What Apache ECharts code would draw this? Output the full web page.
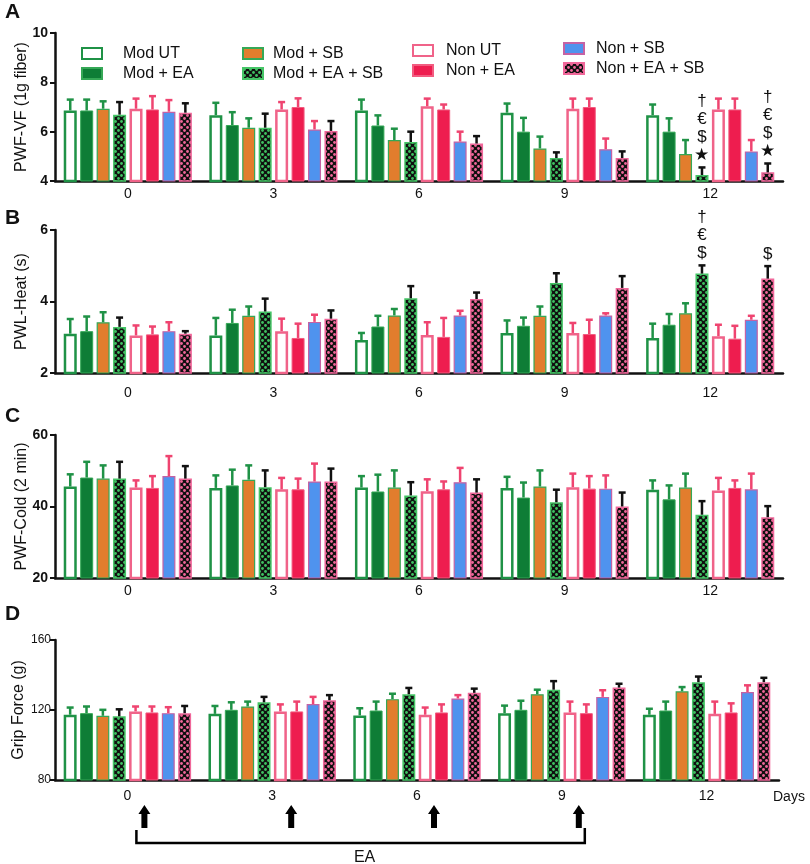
<!DOCTYPE html>
<html><head><meta charset="utf-8">
<script src="https://cdn.jsdelivr.net/npm/echarts@6/dist/echarts.min.js"></script>
<style>html,body{margin:0;padding:0;background:#fff}#c{width:810px;height:864px}</style>
</head><body><div id="c"></div>
<script>
const days = ['0', '3', '6', '9', '12'];
const groups = ['Mod UT', 'Mod + EA', 'Mod + SB', 'Mod + EA + SB', 'Non UT', 'Non + EA', 'Non + SB', 'Non + EA + SB'];

// Panel A: PWF-VF (1g fiber) — rows = groups, cols = days
const vfMean = [
  [6.86, 6.67, 6.86, 6.77, 6.67],
  [6.86, 6.27, 6.25, 6.00, 6.00],
  [6.93, 6.16, 5.66, 5.32, 5.09],
  [6.69, 6.16, 5.58, 4.93, 4.24],
  [6.93, 6.90, 7.03, 6.93, 6.90],
  [6.90, 7.00, 6.90, 7.00, 6.90],
  [6.81, 6.09, 5.60, 5.29, 5.20],
  [6.77, 6.03, 5.52, 4.93, 4.35]
];
const vfSem = [
  [0.44, 0.50, 0.44, 0.37, 0.43],
  [0.44, 0.52, 0.41, 0.56, 0.54],
  [0.30, 0.38, 0.46, 0.48, 0.57],
  [0.51, 0.57, 0.42, 0.23, 0.31],
  [0.41, 0.30, 0.31, 0.41, 0.44],
  [0.54, 0.35, 0.20, 0.34, 0.44],
  [0.47, 0.34, 0.40, 0.43, 0.46],
  [0.38, 0.40, 0.30, 0.27, 0.36]
];
// Panel B: PWL-Heat (s)
const heatMean = [
  [3.10, 3.05, 2.92, 3.12, 2.98],
  [3.17, 3.40, 3.30, 3.32, 3.35],
  [3.42, 3.60, 3.61, 3.60, 3.67],
  [3.29, 3.72, 4.09, 4.52, 4.78],
  [3.05, 3.17, 3.06, 3.12, 3.03],
  [3.08, 2.98, 3.01, 3.09, 2.96],
  [3.17, 3.43, 3.61, 3.61, 3.49],
  [3.10, 3.52, 4.07, 4.38, 4.64]
];
const heatSem = [
  [0.41, 0.49, 0.20, 0.35, 0.40],
  [0.41, 0.37, 0.30, 0.23, 0.30],
  [0.28, 0.26, 0.18, 0.26, 0.28],
  [0.26, 0.36, 0.34, 0.27, 0.23],
  [0.28, 0.35, 0.36, 0.28, 0.32],
  [0.22, 0.40, 0.53, 0.40, 0.36],
  [0.25, 0.20, 0.13, 0.06, 0.11],
  [0.07, 0.23, 0.18, 0.33, 0.35]
];
// Panel C: PWF-Cold (2 min)
const coldMean = [
  [45.6, 45.2, 45.3, 45.2, 44.7],
  [48.1, 45.9, 44.2, 42.5, 42.0],
  [47.8, 47.5, 45.3, 45.6, 45.3],
  [47.8, 45.4, 43.1, 41.2, 37.7],
  [45.3, 44.8, 44.3, 45.4, 44.5],
  [45.2, 44.8, 44.8, 45.0, 45.2],
  [48.5, 47.0, 46.8, 45.0, 44.8],
  [47.8, 47.0, 43.9, 40.0, 37.0]
];
const coldSem = [
  [3.4, 3.5, 3.2, 3.1, 2.6],
  [4.4, 4.4, 4.7, 4.2, 3.9],
  [3.7, 4.0, 4.8, 4.5, 3.9],
  [4.7, 4.7, 3.7, 3.5, 3.8],
  [2.0, 3.2, 3.3, 3.8, 3.5],
  [3.3, 3.0, 2.2, 3.5, 2.1],
  [5.6, 5.0, 4.0, 3.7, 4.4],
  [3.5, 3.6, 3.7, 3.9, 3.1]
];
// Panel D: Grip Force (g)
const gripMean = [
  [117.3, 117.8, 116.9, 118.2, 117.3],
  [118.2, 120.1, 119.7, 120.1, 119.7],
  [116.7, 122.0, 126.2, 129.0, 130.7],
  [116.4, 124.4, 129.0, 131.6, 135.9],
  [119.2, 119.2, 117.3, 118.6, 117.8],
  [118.6, 119.2, 118.6, 118.2, 118.6],
  [118.2, 123.4, 126.6, 127.5, 130.3],
  [118.2, 125.6, 129.8, 132.8, 135.9]
];
const gripSem = [
  [4.1, 4.5, 4.1, 4.3, 3.4],
  [3.8, 4.3, 5.1, 5.2, 5.1],
  [3.4, 2.8, 3.1, 2.6, 2.4],
  [4.0, 3.1, 3.6, 4.9, 3.2],
  [2.8, 4.0, 4.1, 6.2, 7.0],
  [3.4, 5.6, 4.6, 5.0, 5.2],
  [3.4, 4.1, 1.9, 3.8, 3.8],
  [4.1, 2.9, 2.4, 2.2, 2.5]
];
const yNames = ['PWF-VF (1g fiber)', 'PWL-Heat (s)', 'PWF-Cold (2 min)', 'Grip Force (g)'];
const yMin = [4, 2, 20, 80];
const yMax = [10, 6, 60, 160];
const yStep = [2, 2, 20, 40];
const panelLetters = ['A', 'B', 'C', 'D'];
// significance marks: [dayIndex, groupIndex, text]
const sigA = [[4, 3, '†\n€\n$\n★'], [4, 7, '†\n€\n$\n★']];
const sigB = [[4, 3, '†\n€\n$'], [4, 7, '$']];
const sigC = [];
const sigD = [];
const eaDays = [0, 1, 2, 3];

const means = [vfMean, heatMean, coldMean, gripMean];
const sems = [vfSem, heatSem, coldSem, gripSem];
const sigs = [sigA, sigB, sigC, sigD];

const FONT = 'Liberation Sans, Arial, sans-serif';
function pattern(bg, dot) {
  const c = document.createElement('canvas');
  c.width = 6; c.height = 6;
  const ctx = c.getContext('2d');
  ctx.fillStyle = bg; ctx.fillRect(0, 0, 6, 6);
  ctx.fillStyle = dot;
  [[1.5, 1.5], [4.5, 4.5]].forEach(([x, y]) => { ctx.beginPath(); ctx.arc(x, y, 1.4, 0, Math.PI * 2); ctx.fill(); });
  return { image: c, repeat: 'repeat' };
}
const GREEN = '#1f9246', PINK = '#ef4470';
const styles = [
  { color: '#ffffff', borderColor: GREEN, borderWidth: 2.5 },
  { color: '#0e7d36', borderColor: '#35a856', borderWidth: 1 },
  { color: '#e27d2d', borderColor: '#35a856', borderWidth: 1.2 },
  { color: pattern('#101010', '#3fc262'), borderColor: '#45c566', borderWidth: 1.5 },
  { color: '#ffffff', borderColor: '#f06389', borderWidth: 2.5 },
  { color: '#ee1d4f', borderColor: '#f25c80', borderWidth: 1 },
  { color: '#4f93ee', borderColor: '#c562a4', borderWidth: 1.2 },
  { color: pattern('#101010', '#f0679a'), borderColor: '#f0679a', borderWidth: 1.5 }
];
const errColors = [GREEN, GREEN, GREEN, '#111', PINK, PINK, PINK, '#111'];

const CAT_GAP = 0.12, BAR_GAP = 0.264, N = 8;
function barX(api, cat, s) {
  const band = api.size([1, 0])[0];
  const bw = (band - band * CAT_GAP) / (N + (N - 1) * BAR_GAP);
  const total = N * bw + (N - 1) * bw * BAR_GAP;
  const c = api.coord([cat, 0])[0];
  return c - total / 2 + s * bw * (1 + BAR_GAP) + bw / 2;
}

const grids = [
  { left: 55, top: 33, width: 728, height: 148 },
  { left: 55, top: 230, width: 728, height: 143 },
  { left: 55, top: 435, width: 728, height: 143 },
  { left: 55, top: 640, width: 724, height: 140 }
].map(g => Object.assign({ containLabel: false, outerBoundsMode: 'none' }, g));
const labelMargins = [6, 13, 6, 9];
const nameGaps = [25, 25, 25, 28];
const yLabelSize = [14, 14, 14, 12];
const yLabelMargin = [7, 7, 7, 4];

const xAxes = [], yAxes = [], series = [];
for (let p = 0; p < 4; p++) {
  xAxes.push({
    type: 'category', gridIndex: p, data: days,
    axisLine: { lineStyle: { color: '#111', width: 2.5 } },
    axisTick: { alignWithLabel: true, length: 4, lineStyle: { color: '#111', width: 2 } },
    axisLabel: { fontFamily: FONT, fontSize: 14, color: '#111', margin: labelMargins[p] }
  });
  yAxes.push({
    type: 'value', gridIndex: p, min: yMin[p], max: yMax[p], interval: yStep[p],
    name: yNames[p], nameLocation: 'middle', nameGap: nameGaps[p], nameMoveOverlap: false,
    nameTextStyle: { fontFamily: FONT, fontSize: 16, color: '#111' },
    axisLine: { show: true, lineStyle: { color: '#111', width: 2.5 } },
    axisTick: { show: true, length: 5, lineStyle: { color: '#111', width: 2 } },
    axisLabel: { fontFamily: FONT, fontSize: yLabelSize[p], color: '#111', margin: yLabelMargin[p], fontWeight: p < 3 ? 'bold' : 'normal' },
    splitLine: { show: false }
  });
  for (let s = 0; s < N; s++) {
    series.push({
      type: 'bar', name: groups[s], xAxisIndex: p, yAxisIndex: p,
      data: means[p][s], itemStyle: styles[s],
      barGap: (BAR_GAP * 100) + '%', barCategoryGap: (CAT_GAP * 100) + '%',
      animation: false, silent: true, z: 2
    });
  }
  const errData = [];
  for (let s = 0; s < N; s++) for (let d = 0; d < days.length; d++) errData.push([d, s, means[p][s][d], sems[p][s][d]]);
  series.push({
    type: 'custom', xAxisIndex: p, yAxisIndex: p, data: errData, encode: { x: 0, y: 2 },
    animation: false, silent: true, z: 3,
    renderItem: function (params, api) {
      const cat = api.value(0), s = api.value(1), m = api.value(2), e = api.value(3);
      const x = barX(api, cat, s);
      const y0 = api.coord([cat, m])[1], y1 = api.coord([cat, m + e])[1];
      const col = errColors[s];
      return { type: 'group', children: [
        { type: 'line', shape: { x1: x, y1: y0, x2: x, y2: y1 }, style: { stroke: col, lineWidth: 2.5 } },
        { type: 'line', shape: { x1: x - 3.5, y1: y1, x2: x + 3.5, y2: y1 }, style: { stroke: col, lineWidth: 2.5 } }
      ] };
    }
  });
  const sg = sigs[p];
  if (sg.length) {
    series.push({
      type: 'custom', xAxisIndex: p, yAxisIndex: p,
      data: sg.map(a => [a[0], a[1], means[p][a[1]][a[0]] + sems[p][a[1]][a[0]]]),
      encode: { x: 0, y: 2 }, animation: false, silent: true, z: 4,
      renderItem: function (params, api) {
        const cat = api.value(0), s = api.value(1), v = api.value(2);
        const x = barX(api, cat, s);
        const y = api.coord([cat, v])[1];
        return { type: 'text', x: x, y: y - 3, style: {
          text: sg[params.dataIndex][2], fontFamily: FONT, fontSize: 17, lineHeight: 18,
          fill: '#111', align: 'center', verticalAlign: 'bottom' } };
      }
    });
  }
}

const legendCols = [
  { items: ['Mod UT', 'Mod + EA'], left: 81, top: 45, pad: 16 },
  { items: ['Mod + SB', 'Mod + EA + SB'], left: 242, top: 45, pad: 5 },
  { items: ['Non UT', 'Non + EA'], left: 412, top: 42, pad: 8 },
  { items: ['Non + SB', 'Non + EA + SB'], left: 563, top: 40, pad: 7 }
];
const legends = legendCols.map(c => ({
  data: c.items, left: c.left, top: c.top, orient: 'vertical', padding: 0,
  itemWidth: 20, itemHeight: 11, itemGap: 3, selectedMode: false, icon: 'rect',
  textStyle: { fontFamily: FONT, fontSize: 16, color: '#111', lineHeight: 17, padding: [0, 0, 0, c.pad] }
}));

const letterTops = [2, 208, 406, 604];
const letters = panelLetters.map((t, i) => ({
  type: 'text', left: 5, top: letterTops[i],
  style: { text: t, fontFamily: FONT, fontSize: 21, fontWeight: 'bold', fill: '#111' }
}));

const chart = echarts.init(document.getElementById('c'), null, { renderer: 'canvas' });
chart.setOption({
  animation: false,
  grid: grids, xAxis: xAxes, yAxis: yAxes, series: series, legend: legends,
  graphic: letters
});

// EA arrows and bracket under panel D
const ax = eaDays.map(d => chart.convertToPixel({ xAxisIndex: 3 }, d));
const baseY = grids[3].top + grids[3].height;
const arrowOffsets = [17, 19, 17, 17];
const extra = [];
ax.forEach((cx0, i) => {
  const cx = cx0 + arrowOffsets[i], t = baseY + 25;
  extra.push({ type: 'polygon', shape: { points: [[cx, t], [cx + 6, t + 9], [cx + 3, t + 9], [cx + 3, t + 23], [cx - 3, t + 23], [cx - 3, t + 9], [cx - 6, t + 9]] },
    style: { fill: '#000' } });
});
const bl = ax[0] + 9, br = ax[3] + 23, by = baseY + 63;
extra.push({ type: 'polyline', shape: { points: [[bl, baseY + 50], [bl, by], [br, by], [br, baseY + 48]] }, style: { stroke: '#000', lineWidth: 2.5, fill: null } });
extra.push({ type: 'text', x: (bl + br) / 2 + 4, y: by + 15, style: { text: 'EA', fontFamily: FONT, fontSize: 16, fill: '#111', align: 'center', verticalAlign: 'middle' } });
extra.push({ type: 'text', x: 773, y: baseY + 17, style: { text: 'Days', fontFamily: FONT, fontSize: 14, fill: '#111', align: 'left', verticalAlign: 'middle' } });
chart.setOption({ graphic: letters.concat(extra) });
</script>
</body></html>
